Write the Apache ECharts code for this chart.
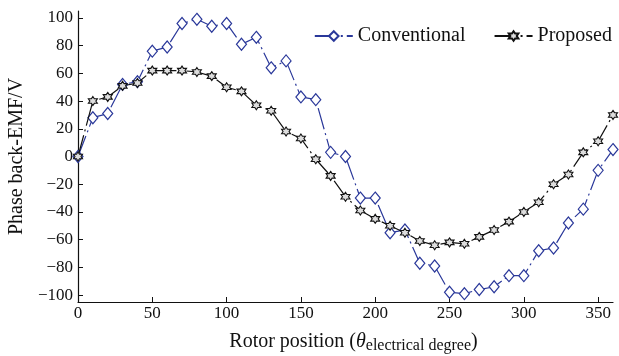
<!DOCTYPE html>
<html><head><meta charset="utf-8">
<script src="https://cdn.jsdelivr.net/npm/echarts@6/dist/echarts.min.js"></script>
<style>html,body{margin:0;padding:0;background:#fff}#c{width:619px;height:356px}</style>
</head><body><div id="c"></div>
<script>
var positions = [0,10,20,30,40,50,60,70,80,90,100,110,120,130,140,150,160,170,180,190,200,210,220,230,240,250,260,270,280,290,300,310,320,330,340,350,360];
var conventional = [0,28,31,52,54,76,79,96,99,94,96,81,86,64,69,43,41,3,0,-30,-30,-55,-53,-77,-79,-98,-99,-96,-94,-86,-86,-68,-66,-48,-38,-10,5];
var proposed = [0,40,43,51,53,62,62,62,61,58,50,47,37,33,18,13,-2,-14,-29,-39,-45,-50,-55,-61,-64,-62,-63,-58,-53,-47,-40,-33,-20,-13,3,11,30];
var seriesNames = ['Conventional','Proposed'];
var yTicks = [-100,-80,-60,-40,-20,0,20,40,60,80,100];

function pairs(xs, ys){ return xs.map(function(x,i){ return [x, ys[i]]; }); }
var FONT = '"Liberation Serif","DejaVu Serif",serif';
var star = 'path://M0,-10 L2.9,-5 L8.66,-5 L5.77,0 L8.66,5 L2.9,5 L0,10 L-2.9,5 L-8.66,5 L-5.77,0 L-8.66,-5 L-2.9,-5 Z';
var chart = echarts.init(document.getElementById('c'), null, {renderer:'canvas'});
chart.setOption({
  backgroundColor:'#fff',
  animation:false,
  grid:{left:78,right:6,top:11,bottom:54,containLabel:false,outerBoundsMode:'none'},
  legend:{
    right:2, top:21, itemWidth:38, itemHeight:12, itemGap:28,
    textStyle:{fontFamily:FONT,fontSize:20,color:'#111'},
    data:seriesNames
  },
  xAxis:{
    type:'value', min:0, max:360, interval:50,
    name:'Rotor position ({i|θ}{s|electrical degree})',
    nameLocation:'middle', nameGap:28,
    nameTextStyle:{fontFamily:FONT,fontSize:20,color:'#111',padding:[0,0,0,16],
      rich:{i:{fontFamily:FONT,fontSize:20,fontStyle:'italic',color:'#111'},
            s:{fontFamily:FONT,fontSize:16,color:'#111',padding:[8,0,0,0]}}},
    axisLine:{onZero:false,lineStyle:{color:'#111',width:1.2}},
    axisTick:{inside:true,length:5,lineStyle:{color:'#111'}},
    axisLabel:{fontFamily:FONT,fontSize:17,color:'#111',margin:3,showMaxLabel:false},
    splitLine:{show:false}
  },
  yAxis:{
    type:'value', min:-105, max:105, interval:20,
    name:'Phase back-EMF/V', nameLocation:'middle', nameGap:45,
    nameTextStyle:{fontFamily:FONT,fontSize:20,color:'#111'},
    axisLine:{show:true,onZero:false,lineStyle:{color:'#111',width:1.2}},
    axisTick:{show:true,inside:true,length:5,customValues:yTicks,lineStyle:{color:'#111'}},
    axisLabel:{fontFamily:FONT,fontSize:17,color:'#111',margin:5,
      customValues:yTicks,
      formatter:function(v){return v<0?'\u2212'+(-v):String(v);}},
    splitLine:{show:false}
  },
  series:[
    {name:seriesNames[0],type:'line',data:pairs(positions,conventional),
     symbol:'diamond',symbolSize:[10,12],
     lineStyle:{color:'#2a389a',width:1.2,type:[22,4,2,4]},
     itemStyle:{color:'#fff',borderColor:'#2a389a',borderWidth:1.2},
     z:2},
    {name:seriesNames[1],type:'line',data:pairs(positions,proposed),
     symbol:star,symbolSize:[9,9],
     lineStyle:{color:'#111',width:1.2,type:[22,4,2,4]},
     itemStyle:{color:'#ddd',borderColor:'#111',borderWidth:1.1},
     z:3}
  ]
});
</script></body></html>
